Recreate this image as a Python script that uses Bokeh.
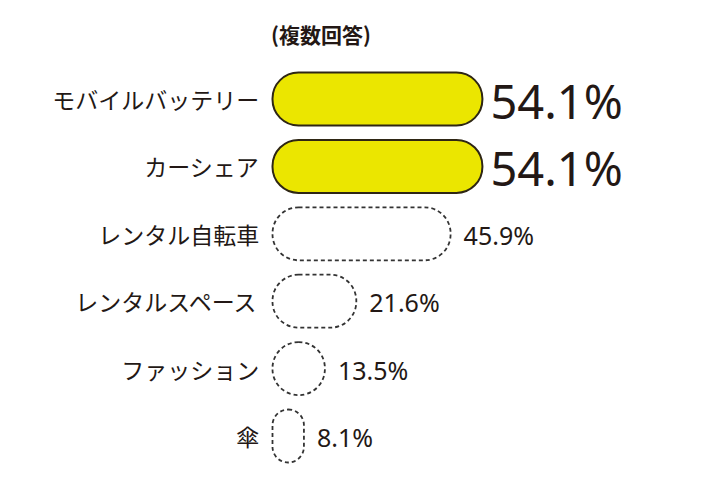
from bokeh.plotting import figure
from bokeh.models import Range1d, ColumnDataSource
from bokeh.core.properties import value
from bokeh.embed import file_html
from bokeh.resources import INLINE

categories = ["モバイルバッテリー", "カーシェア", "レンタル自転車", "レンタルスペース", "ファッション", "傘"]
values = [54.1, 54.1, 45.9, 21.6, 13.5, 8.1]
value_labels = ["54.1%", "54.1%", "45.9%", "21.6%", "13.5%", "8.1%"]
highlight = [True, True, False, False, False, False]
title_text = "(複数回答)"

W, H = 704, 464
px_per_pct = 3.88
zero_px = 272.0
pitch = 67.4
first_px = 98.5

x0 = -zero_px / px_per_pct
x1 = (W - zero_px) / px_per_pct
ytop = -first_px / pitch
ybot = (H - first_px) / pitch

p = figure(width=W, height=H, output_backend="svg", toolbar_location=None,
           x_range=Range1d(x0, x1), y_range=Range1d(ybot, ytop),
           min_border=0, min_border_left=0, min_border_right=0,
           min_border_top=0, min_border_bottom=0)
p.axis.visible = False
p.grid.visible = False
p.outline_line_color = None
p.background_fill_color = "white"
p.border_fill_color = "white"

ys = list(range(len(categories)))
hi = [i for i in ys if highlight[i]]
lo = [i for i in ys if not highlight[i]]

INK = "#231815"
YELLOW = "#EBE600"

src_hi = ColumnDataSource(dict(y=[ys[i] for i in hi], right=[values[i] for i in hi],
                               lab=[value_labels[i] for i in hi]))
src_lo = ColumnDataSource(dict(y=[ys[i] for i in lo], right=[values[i] for i in lo],
                               lab=[value_labels[i] for i in lo]))

bh = 53 / pitch
p.hbar(y="y", left=0, right="right", height=bh, source=src_hi,
       fill_color=YELLOW, line_color="#2e2614", line_width=2, border_radius=26)
p.hbar(y="y", left=0, right="right", height=bh, source=src_lo,
       fill_color="white", line_color="#333333", line_width=1.8,
       line_dash="4 3", border_radius=26)

font = value("Noto Sans CJK JP")
src_cat = ColumnDataSource(dict(y=ys, x=[-3.4] * len(ys), t=categories))
p.text(x="x", y="y", text="t", source=src_cat, text_font=font,
       text_font_size="23px", text_color=INK, text_align="right",
       text_baseline="middle")

p.text(x="right", y="y", text="lab", source=src_hi, text_font=value("Noto Sans"),
       text_font_size="47px", text_color=INK, text_align="left",
       text_baseline="middle", x_offset=8, y_offset=2)
p.text(x="right", y="y", text="lab", source=src_lo, text_font=value("Noto Sans"),
       text_font_size="25px", text_color=INK, text_align="left",
       text_baseline="middle", x_offset=13, y_offset=1)

src_t = ColumnDataSource(dict(x=[-0.4], y=[ytop + 33 / pitch], t=[title_text]))
p.text(x="x", y="y", text="t", source=src_t, text_font=font,
       text_font_size="21px", text_font_style="bold", text_color=INK,
       text_align="left", text_baseline="middle")

open("out.html", "w").write(file_html(p, INLINE))
